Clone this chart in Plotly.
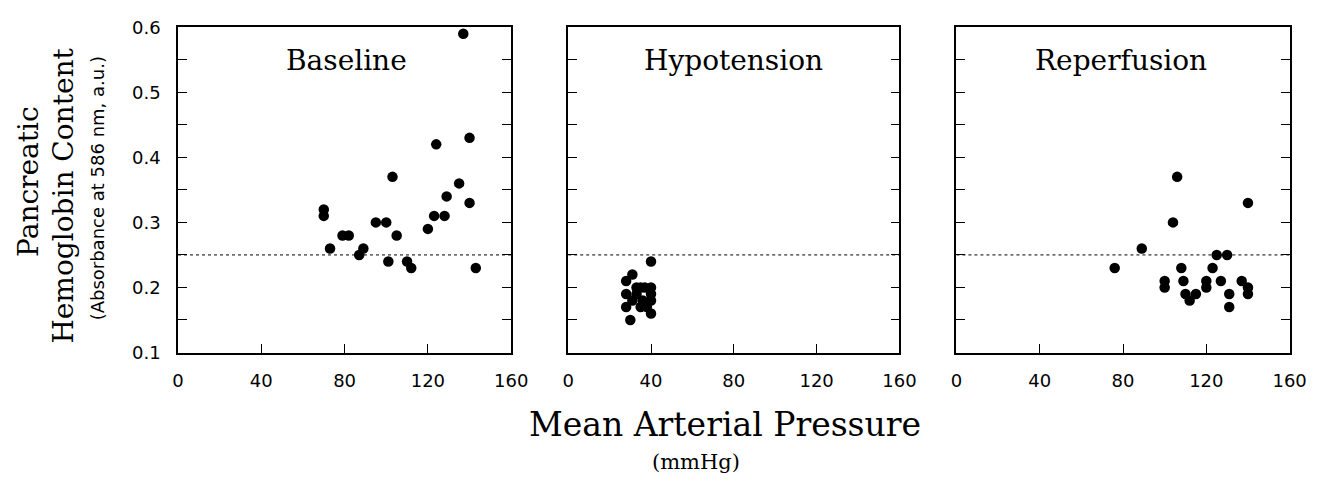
import plotly.graph_objects as go

# ---- data ----
panel_titles = ["Baseline", "Hypotension", "Reperfusion"]

baseline_map = [137, 140, 124, 103, 135, 129, 140, 70, 70, 123, 128, 95, 100, 120,
                79, 82, 105, 73, 89, 87, 101, 110, 112, 143]
baseline_hb = [0.59, 0.43, 0.42, 0.37, 0.36, 0.34, 0.33, 0.32, 0.31, 0.31, 0.31, 0.30, 0.30, 0.29,
               0.28, 0.28, 0.28, 0.26, 0.26, 0.25, 0.24, 0.24, 0.23, 0.23]

hypo_map = [40, 31, 28, 28, 28, 30, 33, 35, 37, 40, 40, 40, 33, 36, 35, 38, 40, 31]
hypo_hb = [0.24, 0.22, 0.21, 0.19, 0.17, 0.15, 0.20, 0.20, 0.20, 0.20, 0.19, 0.18, 0.19, 0.18,
           0.17, 0.17, 0.16, 0.18]

reperf_map = [106, 140, 104, 89, 76, 108, 123, 125, 130, 100, 100, 109, 120, 120, 127, 137,
              140, 140, 110, 115, 112, 131, 131]
reperf_hb = [0.37, 0.33, 0.30, 0.26, 0.23, 0.23, 0.23, 0.25, 0.25, 0.21, 0.20, 0.21, 0.21, 0.20,
             0.21, 0.21, 0.20, 0.19, 0.19, 0.19, 0.18, 0.19, 0.17]

reference_level = [0.25, 0.25]
reference_x = [0, 160]

x_ticks = [0, 40, 80, 120, 160]
y_ticks = [0.1, 0.2, 0.3, 0.4, 0.5, 0.6]

series = [(baseline_map, baseline_hb), (hypo_map, hypo_hb), (reperf_map, reperf_hb)]

W, H = 1342, 484


def px(d):
    return d / W


def py(d):
    return 1 - d / H


x_domains_px = [(175, 514), (572, 909), (967, 1306)]
y_top_px, y_bot_px = 17, 357

fig = go.Figure()
for i, (xs, ys) in enumerate(series):
    ax = "" if i == 0 else str(i + 1)
    fig.add_trace(go.Scatter(x=reference_x, y=reference_level, mode="lines",
                             line=dict(color="black", width=1, dash="dot"),
                             xaxis="x" + ax, yaxis="y" + ax, showlegend=False,
                             hoverinfo="skip"))
    fig.add_trace(go.Scatter(x=xs, y=ys, mode="markers",
                             marker=dict(color="black", size=10.5),
                             xaxis="x" + ax, yaxis="y" + ax, showlegend=False))

layout = dict(width=W, height=H, autosize=False, margin=dict(l=0, r=0, t=0, b=0, pad=0),
              paper_bgcolor="white", plot_bgcolor="white", showlegend=False)

tickfont = dict(family="DejaVu Sans, sans-serif", size=18, color="black")
for i, (x0, x1) in enumerate(x_domains_px):
    key = "" if i == 0 else str(i + 1)
    layout["xaxis" + key] = dict(
        domain=[px(x0), px(x1)], range=[0, 160], anchor="y" + key,
        tickvals=x_ticks, ticktext=[str(v) for v in x_ticks],
        ticks="inside", ticklen=9, tickwidth=1.2, tickcolor="black",
        ticklabelstandoff=11,
        showline=True, linecolor="black", linewidth=1.6, mirror=True,
        showgrid=False, zeroline=False, tickfont=tickfont, fixedrange=True)
    layout["yaxis" + key] = dict(
        domain=[py(y_bot_px), py(y_top_px)], range=[0.1, 0.6],
        anchor="x" + key,
        tickvals=y_ticks, ticktext=[f"{v:.1f}" for v in y_ticks],
        showticklabels=(i == 0), ticklabelstandoff=12,
        ticks="inside", ticklen=9, tickwidth=1.2, tickcolor="black",
        minor=dict(dtick=0.05, ticks="inside", ticklen=9, tickwidth=1.2, tickcolor="black"),
        showline=True, linecolor="black", linewidth=1.6, mirror="ticks",
        showgrid=False, zeroline=False, tickfont=tickfont, fixedrange=True)

serif = "DejaVu Serif, serif"
sans = "DejaVu Sans, sans-serif"
title_x_px = [346, 740, 1134]
annotations = []
for t, xp in zip(panel_titles, title_x_px):
    annotations.append(dict(text=t, x=px(xp), y=py(52), xref="paper", yref="paper",
                            showarrow=False, xanchor="center", yanchor="middle",
                            font=dict(family=serif, size=28, color="black")))
annotations += [
    dict(text="Mean Arterial Pressure", x=px(732), y=py(432), xref="paper", yref="paper",
         showarrow=False, xanchor="center", yanchor="middle",
         font=dict(family=serif, size=33, color="black")),
    dict(text="(mmHg)", x=px(702), y=py(471), xref="paper", yref="paper",
         showarrow=False, xanchor="center", yanchor="middle",
         font=dict(family=serif, size=21, color="black")),
    dict(text="Pancreatic", x=px(23), y=py(178), xref="paper", yref="paper",
         showarrow=False, xanchor="center", yanchor="middle", textangle=-90,
         font=dict(family=serif, size=28, color="black")),
    dict(text="Hemoglobin Content", x=px(59), y=py(193), xref="paper", yref="paper",
         showarrow=False, xanchor="center", yanchor="middle", textangle=-90,
         font=dict(family=serif, size=28, color="black")),
    dict(text="(Absorbance at 586 nm, a.u.)", x=px(94), y=py(185), xref="paper", yref="paper",
         showarrow=False, xanchor="center", yanchor="middle", textangle=-90,
         font=dict(family=sans, size=18, color="black")),
]
layout["annotations"] = annotations
fig.update_layout(**layout)
fig.write_html("out.html",
               config={"responsive": False, "displayModeBar": False},
               post_script="document.body.style.margin='0';document.body.style.overflow='hidden';")
